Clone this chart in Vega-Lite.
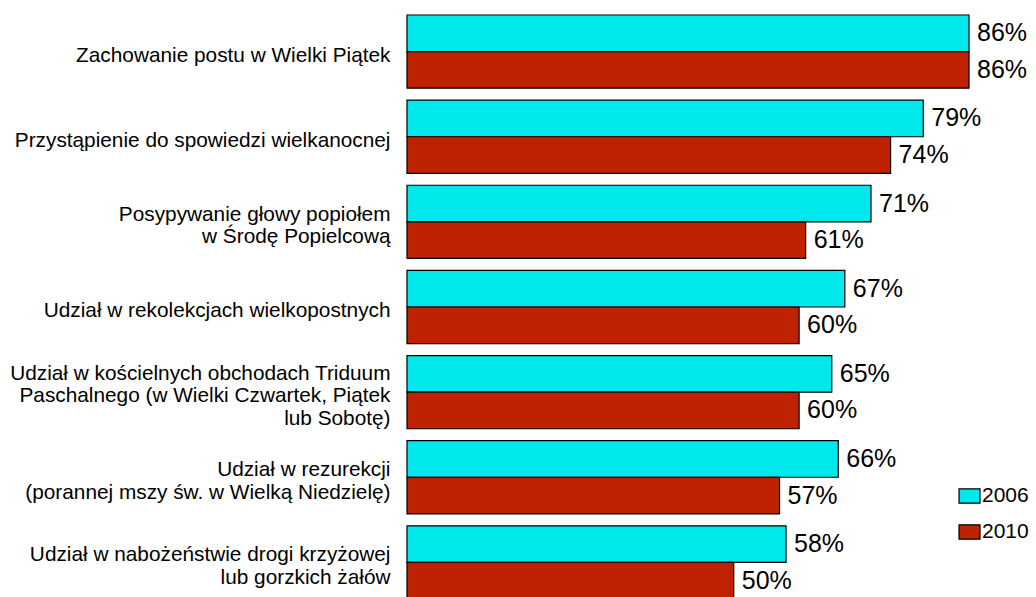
{
  "$schema": "https://vega.github.io/schema/vega-lite/v6.json",
  "autosize": {"type": "none"},
  "padding": {"left": 407, "top": 0, "right": 0, "bottom": 0},
  "width": 629,
  "height": 597,
  "background": "white",
  "config": {
    "view": {"stroke": null},
    "font": "Liberation Sans"
  },
  "data": {
    "values": [
      {"cat": "Zachowanie postu w Wielki Piątek", "year": "2006", "value": 86},
      {"cat": "Zachowanie postu w Wielki Piątek", "year": "2010", "value": 86},
      {"cat": "Przystąpienie do spowiedzi wielkanocnej", "year": "2006", "value": 79},
      {"cat": "Przystąpienie do spowiedzi wielkanocnej", "year": "2010", "value": 74},
      {"cat": "Posypywanie głowy popiołem|w Środę Popielcową", "year": "2006", "value": 71},
      {"cat": "Posypywanie głowy popiołem|w Środę Popielcową", "year": "2010", "value": 61},
      {"cat": "Udział w rekolekcjach wielkopostnych", "year": "2006", "value": 67},
      {"cat": "Udział w rekolekcjach wielkopostnych", "year": "2010", "value": 60},
      {"cat": "Udział w kościelnych obchodach Triduum|Paschalnego (w Wielki Czwartek, Piątek|lub Sobotę)", "year": "2006", "value": 65},
      {"cat": "Udział w kościelnych obchodach Triduum|Paschalnego (w Wielki Czwartek, Piątek|lub Sobotę)", "year": "2010", "value": 60},
      {"cat": "Udział w rezurekcji|(porannej mszy św. w Wielką Niedzielę)", "year": "2006", "value": 66},
      {"cat": "Udział w rezurekcji|(porannej mszy św. w Wielką Niedzielę)", "year": "2010", "value": 57},
      {"cat": "Udział w nabożeństwie drogi krzyżowej|lub gorzkich żałów", "year": "2006", "value": 58},
      {"cat": "Udział w nabożeństwie drogi krzyżowej|lub gorzkich żałów", "year": "2010", "value": 50}
    ]
  },
  "encoding": {
    "y": {
      "field": "cat",
      "type": "nominal",
      "sort": null,
      "scale": {"range": [8, 606], "paddingInner": 0.14, "paddingOuter": 0.082},
      "axis": {
        "title": null,
        "domain": false,
        "ticks": false,
        "tickSize": 0,
        "labelPadding": 17,
        "labelFont": "Liberation Sans",
        "labelFontSize": 20.8,
        "labelColor": "#000000",
        "labelLimit": 0,
        "labelLineHeight": 22.5,
        "labelExpr": "split(datum.value, '|')",
        "labelOffset": {"expr": "4 - (length(split(datum.value, '|')) - 1) * 11.25"}
      }
    },
    "yOffset": {
      "field": "year",
      "type": "nominal",
      "scale": {"paddingInner": 0, "paddingOuter": 0}
    },
    "x": {
      "field": "value",
      "type": "quantitative",
      "scale": {"domain": [0, 100], "range": [0, 653.5], "nice": false},
      "axis": null
    }
  },
  "layer": [
    {
      "mark": {"type": "bar", "stroke": "#000000", "strokeWidth": 1.2, "clip": false},
      "encoding": {
        "color": {
          "field": "year",
          "type": "nominal",
          "scale": {"domain": ["2006", "2010"], "range": ["#00e8ec", "#be2200"]},
          "legend": {
            "title": null,
            "orient": "none",
            "legendX": 551,
            "legendY": 484.5,
            "padding": 0,
            "symbolType": "M-1,-0.68H1V0.68H-1Z",
            "symbolSize": 441,
            "symbolStrokeColor": "#000000",
            "symbolStrokeWidth": 1.2,
            "symbolOpacity": 1,
            "labelFont": "Liberation Sans",
            "labelFontSize": 21,
            "labelColor": "#000000",
            "labelOffset": 1,
            "rowPadding": 14
          }
        }
      }
    },
    {
      "mark": {
        "type": "text",
        "align": "left",
        "baseline": "middle",
        "dx": 8,
        "font": "Liberation Sans",
        "fontSize": 25,
        "color": "#000000",
        "text": {"expr": "datum.value + '%'"}
      }
    }
  ]
}
